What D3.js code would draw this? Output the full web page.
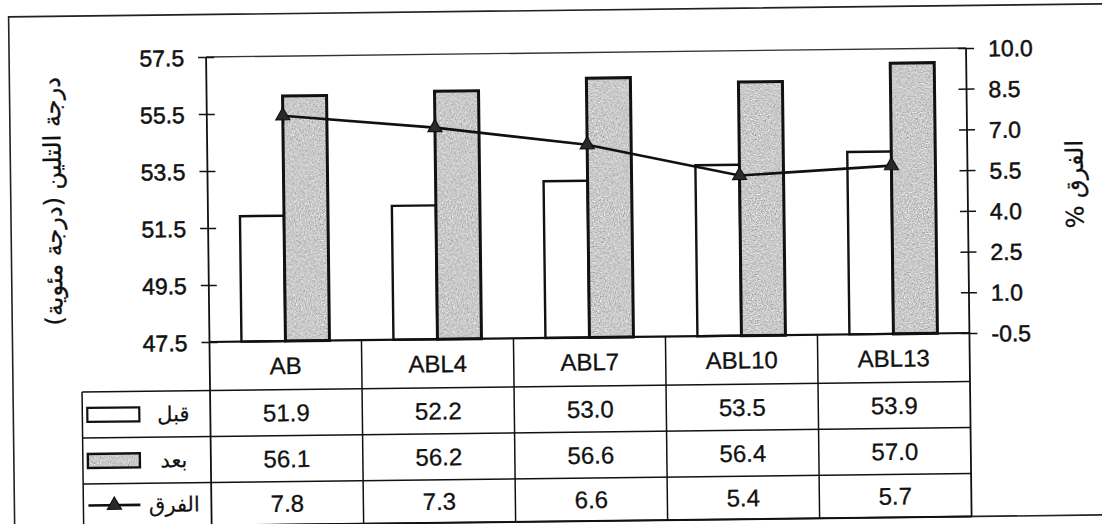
<!DOCTYPE html>
<html>
<head>
<meta charset="utf-8">
<script src="https://cdn.jsdelivr.net/npm/d3@7"></script>
<style>
  body { margin: 0; background: #fff; }
  svg { display: block; }
</style>
</head>
<body>
<svg id="chart" width="1102" height="524"></svg>
<script>
// Softening point before/after, and percentage difference
const categories = ["AB", "ABL4", "ABL7", "ABL10", "ABL13"];
const before = [51.9, 52.2, 53.0, 53.5, 53.9];
const after = [56.1, 56.2, 56.6, 56.4, 57.0];
const diff = [7.8, 7.3, 6.6, 5.4, 5.7];
const leftTicks = [47.5, 49.5, 51.5, 53.5, 55.5, 57.5];
const rightTicks = [-0.5, 1.0, 2.5, 4.0, 5.5, 7.0, 8.5, 10.0];
const seriesNames = ["قبل", "بعد", "الفرق"];
const leftTitle = "درجة التلين (درجة مئوية)";
const rightTitle = "الفرق %";

const latin = "'Liberation Sans', Arial, sans-serif";
const arabic = "'DejaVu Sans', sans-serif";
const ink = "#111";

const plot = { left: 209, right: 969, top: 52.5, bottom: 337.5 };
const rows = [337.5, 386, 432, 478, 521];   // table row edges
const legendLeft = 81;

const svg = d3.select("#chart");
svg.append("rect").attr("width", 1102).attr("height", 524).attr("fill", "#fff");

// grainy grey fill for the "after" bars
const defs = svg.append("defs");
const f = defs.append("filter").attr("id", "grain")
  .attr("x", 0).attr("y", 0).attr("width", 1).attr("height", 1)
  .attr("filterUnits", "objectBoundingBox")
  .attr("color-interpolation-filters", "sRGB");
f.append("feTurbulence").attr("type", "fractalNoise")
  .attr("baseFrequency", 0.8).attr("numOctaves", 2).attr("seed", 4).attr("result", "n");
f.append("feColorMatrix").attr("in", "n").attr("type", "matrix")
  .attr("values", "0.33 0.33 0.33 0 0  0.33 0.33 0.33 0 0  0.33 0.33 0.33 0 0  0 0 0 0 1")
  .attr("result", "g");
const ct = f.append("feComponentTransfer").attr("in", "g").attr("result", "t");
["feFuncR", "feFuncG", "feFuncB"].forEach(fn =>
  ct.append(fn).attr("type", "linear").attr("slope", 1.05).attr("intercept", 0.27));
f.append("feComposite").attr("in", "t").attr("in2", "SourceGraphic").attr("operator", "in");

const root = svg.append("g").attr("transform", "rotate(-0.68 588 300)");

// outer frame
root.append("rect").attr("x", 12).attr("y", 10).attr("width", 1120).attr("height", 511)
  .attr("fill", "none").attr("stroke", "#222").attr("stroke-width", 1.6);

// scales
const x0 = d3.scaleBand().domain(categories).range([plot.left, plot.right]).padding(0);
const bw = x0.bandwidth();
const x1 = d3.scaleBand().domain(["before", "after"]).range([0, bw])
  .paddingInner(0).paddingOuter(0.727);
const yL = d3.scaleLinear().domain([47.5, 57.5]).range([plot.bottom, plot.top]);
const yR = d3.scaleLinear().domain([-0.5, 10.0]).range([plot.bottom, plot.top]);

// bars
const barData = categories.map((c, i) => ({ c, before: before[i], after: after[i] }));
const grp = root.append("g").selectAll("g").data(barData).join("g")
  .attr("transform", d => `translate(${x0(d.c)},0)`);
grp.append("rect")
  .attr("x", x1("before")).attr("width", x1.bandwidth())
  .attr("y", d => yL(d.before)).attr("height", d => yL(47.5) - yL(d.before))
  .attr("fill", "#fff").attr("stroke", ink).attr("stroke-width", 2.4);
grp.append("rect")
  .attr("x", x1("after")).attr("width", x1.bandwidth())
  .attr("y", d => yL(d.after)).attr("height", d => yL(47.5) - yL(d.after))
  .attr("fill", "#000").attr("filter", "url(#grain)");
grp.append("rect")
  .attr("x", x1("after")).attr("width", x1.bandwidth())
  .attr("y", d => yL(d.after)).attr("height", d => yL(47.5) - yL(d.after))
  .attr("fill", "none").attr("stroke", ink).attr("stroke-width", 3);

// plot frame and axes
const lines = root.append("g").attr("stroke", ink).attr("fill", "none");
lines.append("line").attr("x1", plot.left).attr("x2", plot.right)
  .attr("y1", plot.top).attr("y2", plot.top).attr("stroke-width", 1.4).attr("stroke", "#333");
lines.append("line").attr("x1", plot.left).attr("x2", plot.left)
  .attr("y1", plot.top).attr("y2", rows[4]).attr("stroke-width", 1.8);
lines.append("line").attr("x1", plot.right).attr("x2", plot.right)
  .attr("y1", plot.top).attr("y2", rows[4]).attr("stroke-width", 1.8);
lines.append("line").attr("x1", plot.left).attr("x2", plot.right)
  .attr("y1", plot.bottom).attr("y2", plot.bottom).attr("stroke-width", 2.2);

// left axis
const axL = root.append("g").attr("transform", `translate(${plot.left},0)`)
  .call(d3.axisLeft(yL).tickValues(leftTicks).tickFormat(d3.format(".1f"))
    .tickSize(8).tickPadding(14));
axL.select(".domain").remove();
axL.selectAll(".tick line").attr("x1", 8).attr("x2", -8).attr("stroke", ink).attr("stroke-width", 1.5);
axL.selectAll(".tick text").attr("font-family", latin).attr("font-size", 23)
  .attr("fill", ink).attr("stroke", ink).attr("stroke-width", 0.5).attr("dy", "0.36em");

// right axis
const axR = root.append("g").attr("transform", `translate(${plot.right},0)`)
  .call(d3.axisRight(yR).tickValues(rightTicks).tickFormat(v => v.toFixed(1))
    .tickSize(8).tickPadding(14));
axR.select(".domain").remove();
axR.selectAll(".tick line").attr("x1", -8).attr("x2", 8).attr("stroke", ink).attr("stroke-width", 1.5);
axR.selectAll(".tick text").attr("font-family", latin).attr("font-size", 23)
  .attr("fill", ink).attr("stroke", ink).attr("stroke-width", 0.5).attr("dy", "0.36em");

// difference line with triangle markers
const cx = c => x0(c) + bw / 2;
const diffData = categories.map((c, i) => ({ c, v: diff[i] }));
root.append("path").datum(diffData)
  .attr("d", d3.line().x(d => cx(d.c)).y(d => yR(d.v)))
  .attr("fill", "none").attr("stroke", ink).attr("stroke-width", 2.6);
const tri = d3.symbol(d3.symbolTriangle).size(85);
root.append("g").selectAll("path").data(diffData).join("path")
  .attr("transform", d => `translate(${cx(d.c)},${yR(d.v)})`)
  .attr("d", tri).attr("fill", "#2a2a2a").attr("stroke", ink).attr("stroke-width", 1.2);

// axis titles
root.append("text").attr("transform", `translate(54,195) rotate(-90)`)
  .attr("text-anchor", "middle").attr("dy", "0.35em").attr("direction", "rtl")
  .attr("font-family", arabic).attr("font-size", 24).attr("fill", ink)
  .attr("stroke", ink).attr("stroke-width", 0.3)
  .text(leftTitle);
root.append("text").attr("transform", `translate(1076,190) rotate(-90)`)
  .attr("text-anchor", "middle").attr("dy", "0.35em").attr("direction", "rtl")
  .attr("font-family", arabic).attr("font-size", 24).attr("fill", ink)
  .attr("stroke", ink).attr("stroke-width", 0.3)
  .text(rightTitle);

// data table
const tbl = root.append("g").attr("stroke", ink).attr("fill", "none").attr("stroke-width", 1.5);
rows.slice(1).forEach((y, i) => {
  tbl.append("line").attr("x1", legendLeft).attr("x2", plot.right).attr("y1", y).attr("y2", y)
    .attr("stroke-width", i === 3 ? 2 : 1.5);
});
tbl.append("line").attr("x1", legendLeft).attr("x2", legendLeft).attr("y1", rows[1]).attr("y2", rows[4]);
categories.slice(1).forEach(c => {
  tbl.append("line").attr("x1", x0(c)).attr("x2", x0(c)).attr("y1", plot.bottom).attr("y2", rows[4]);
});

const mid = i => (rows[i] + rows[i + 1]) / 2;
root.append("g").selectAll("text").data(categories).join("text")
  .attr("x", c => cx(c)).attr("y", mid(0)).attr("dy", "0.36em")
  .attr("text-anchor", "middle").attr("font-family", latin).attr("font-size", 24).attr("fill", ink)
  .attr("stroke", ink).attr("stroke-width", 0.3)
  .text(c => c);
[before, after, diff].forEach((vals, r) => {
  root.append("g").selectAll("text").data(vals).join("text")
    .attr("x", (v, i) => cx(categories[i])).attr("y", mid(r + 1)).attr("dy", "0.36em")
    .attr("text-anchor", "middle").attr("font-family", latin).attr("font-size", 24).attr("fill", ink)
    .attr("stroke", ink).attr("stroke-width", 0.3)
    .text(v => v.toFixed(1));
});

// legend keys inside the table
const keyX = 86, keyW = 52, keyH = 14;
const leg = root.append("g");
leg.append("rect").attr("x", keyX).attr("y", mid(1) - keyH / 2).attr("width", keyW).attr("height", keyH)
  .attr("fill", "#fff").attr("stroke", ink).attr("stroke-width", 2.2);
leg.append("rect").attr("x", keyX).attr("y", mid(2) - keyH / 2).attr("width", keyW).attr("height", keyH)
  .attr("fill", "#000").attr("filter", "url(#grain)");
leg.append("rect").attr("x", keyX).attr("y", mid(2) - keyH / 2).attr("width", keyW).attr("height", keyH)
  .attr("fill", "none").attr("stroke", ink).attr("stroke-width", 2.4);
leg.append("line").attr("x1", keyX).attr("x2", keyX + keyW).attr("y1", mid(3)).attr("y2", mid(3))
  .attr("stroke", ink).attr("stroke-width", 2.6);
leg.append("path").attr("transform", `translate(${keyX + keyW / 2},${mid(3)})`)
  .attr("d", tri).attr("fill", "#2a2a2a").attr("stroke", ink).attr("stroke-width", 1.2);
seriesNames.forEach((name, i) => {
  leg.append("text").attr("x", 172).attr("y", mid(i + 1)).attr("dy", "0.35em")
    .attr("text-anchor", "middle").attr("direction", "rtl")
    .attr("font-family", arabic).attr("font-size", 21).attr("fill", ink)
    .attr("stroke", ink).attr("stroke-width", 0.2)
    .text(name);
});
</script>
</body>
</html>
